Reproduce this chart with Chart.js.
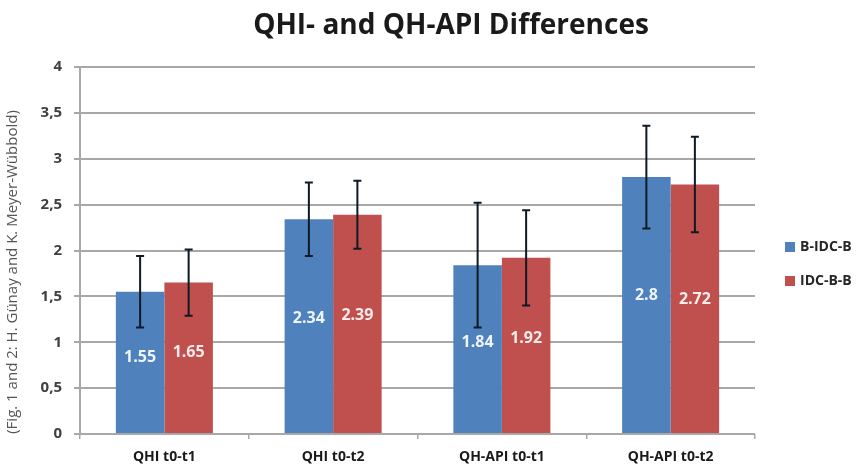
<!DOCTYPE html>
<html>
<head>
<meta charset="utf-8">
<title>QHI- and QH-API Differences</title>
<script src="https://cdn.jsdelivr.net/npm/chart.js@4.4.1/dist/chart.umd.min.js"></script>
<style>
  html, body { margin: 0; padding: 0; background: #fff; }
  #wrap { width: 860px; height: 468px; position: relative; }
</style>
</head>
<body>
<div id="wrap"><canvas id="chart"></canvas></div>
<script>
const categories = ['QHI t0-t1', 'QHI t0-t2', 'QH-API t0-t1', 'QH-API t0-t2'];
const seriesNames = ['B-IDC-B', 'IDC-B-B'];
const bIdcB = [1.55, 2.34, 1.84, 2.8];
const idcBB = [1.65, 2.39, 1.92, 2.72];
// symmetric error bar half-widths
const bIdcBErr = [0.39, 0.40, 0.68, 0.56];
const idcBBErr = [0.36, 0.37, 0.52, 0.52];
const yTicks = [0, 0.5, 1, 1.5, 2, 2.5, 3, 3.5, 4];
const title = 'QHI- and QH-API Differences';
const caption = '(Fig. 1 and 2: H. Günay and K. Meyer-Wübbold)';

const BLUE = '#4f81bd';
const RED = '#c0504d';
const FONT = '"Open Sans", "Noto Sans", sans-serif';

// whiskers with caps
const errorBars = {
  id: 'errorBars',
  afterDatasetsDraw(chart) {
    const { ctx } = chart;
    const y = chart.scales.y;
    chart.data.datasets.forEach((ds, i) => {
      chart.getDatasetMeta(i).data.forEach((bar, j) => {
        const v = ds.data[j], e = ds.errors[j];
        const top = y.getPixelForValue(v + e);
        const bot = y.getPixelForValue(v - e);
        ctx.save();
        ctx.strokeStyle = '#0d1a26';
        ctx.lineWidth = 2;
        ctx.beginPath();
        ctx.moveTo(bar.x, top); ctx.lineTo(bar.x, bot);
        ctx.moveTo(bar.x - 4, top); ctx.lineTo(bar.x + 4, top);
        ctx.moveTo(bar.x - 4, bot); ctx.lineTo(bar.x + 4, bot);
        ctx.stroke();
        ctx.restore();
      });
    });
  }
};

// value labels inside the bars
const barLabels = {
  id: 'barLabels',
  afterDatasetsDraw(chart) {
    const { ctx } = chart;
    const y = chart.scales.y;
    chart.data.datasets.forEach((ds, i) => {
      chart.getDatasetMeta(i).data.forEach((bar, j) => {
        const v = ds.data[j];
        ctx.save();
        ctx.font = 'bold 16px ' + FONT;
        ctx.fillStyle = ds.labelColor;
        ctx.textAlign = 'center';
        ctx.textBaseline = 'middle';
        ctx.fillText(String(v), bar.x, y.getPixelForValue(v * 0.54));
        ctx.restore();
      });
    });
  }
};

// title, legend on the right, rotated credit line on the left
const extras = {
  id: 'extras',
  afterDraw(chart) {
    const { ctx } = chart;

    ctx.save();
    ctx.font = 'bold 28px ' + FONT;
    ctx.fillStyle = '#1a1a1a';
    ctx.textAlign = 'center';
    ctx.textBaseline = 'alphabetic';
    ctx.fillText(title, 451, 34);
    ctx.restore();

    chart.data.datasets.forEach((ds, i) => {
      const cy = 247 + i * 34;
      ctx.save();
      ctx.fillStyle = ds.backgroundColor;
      ctx.fillRect(785, cy - 5, 10, 10);
      ctx.font = 'bold 14px ' + FONT;
      ctx.fillStyle = '#262626';
      ctx.textAlign = 'left';
      ctx.textBaseline = 'middle';
      ctx.fillText(ds.label, 800, cy);
      ctx.restore();
    });

    ctx.save();
    ctx.translate(13, 272);
    ctx.rotate(-Math.PI / 2);
    ctx.font = '15px ' + FONT;
    ctx.fillStyle = '#555';
    ctx.textAlign = 'center';
    ctx.textBaseline = 'middle';
    ctx.fillText(caption, 0, 0);
    ctx.restore();
  }
};

new Chart(document.getElementById('chart'), {
  type: 'bar',
  data: {
    labels: categories,
    datasets: [
      { label: seriesNames[0], data: bIdcB, errors: bIdcBErr, backgroundColor: BLUE, labelColor: '#eef4fb' },
      { label: seriesNames[1], data: idcBB, errors: idcBBErr, backgroundColor: RED, labelColor: '#fbecec' }
    ]
  },
  options: {
    responsive: true,
    maintainAspectRatio: false,
    animation: false,
    layout: { padding: { left: 0, right: 105, top: 67, bottom: 0 } },
    datasets: { bar: { categoryPercentage: 0.575, barPercentage: 1.0 } },
    plugins: {
      legend: { display: false },
      tooltip: { enabled: false },
      title: { display: false }
    },
    scales: {
      x: {
        offset: true,
        grid: { display: true, drawOnChartArea: false, drawTicks: true, tickLength: 5, offset: true, color: '#a8a8a8', lineWidth: 1.5 },
        border: { display: false },
        ticks: { color: '#1a1a1a', font: { family: FONT, size: 14, weight: 'bold' }, padding: 10 },
        afterFit: s => { s.height = 34; }
      },
      y: {
        min: 0,
        max: 4,
        afterBuildTicks: s => { s.ticks = yTicks.map(v => ({ value: v })); },
        grid: { color: '#a8a8a8', lineWidth: 2, tickLength: 6 },
        border: { display: true, color: '#a8a8a8', width: 2 },
        ticks: {
          color: '#404040',
          padding: 12,
          font: { family: FONT, size: 15, weight: 'bold' },
          callback: v => String(v).replace('.', ',')
        },
        afterFit: s => { s.width = 80; }
      }
    }
  },
  plugins: [errorBars, barLabels, extras]
});
</script>
</body>
</html>
